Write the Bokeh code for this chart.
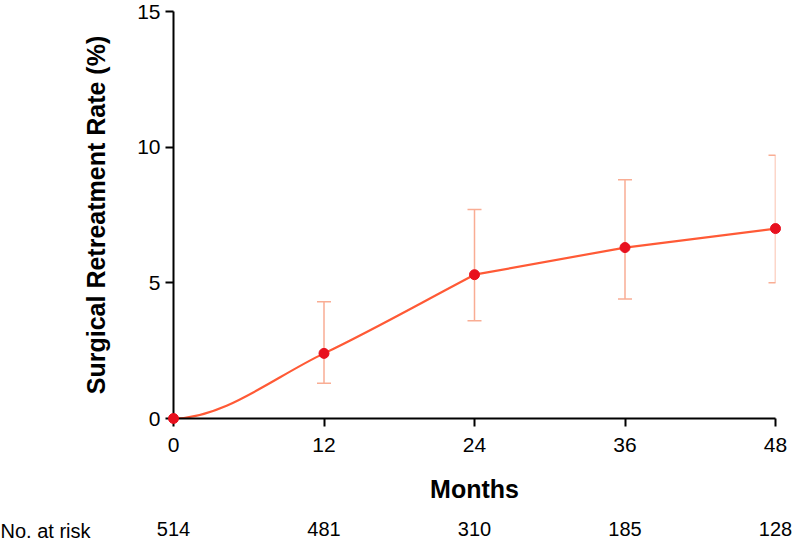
from bokeh.plotting import figure
from bokeh.models import (ColumnDataSource, Whisker, TeeHead, FixedTicker, LinearAxis, Range1d)
from bokeh.core.properties import value
from bokeh.embed import file_html
from bokeh.resources import INLINE

months = [0, 12, 24, 36, 48]
rate = [0.0, 2.4, 5.3, 6.3, 7.0]
ci_low = [0.0, 1.3, 3.6, 4.4, 5.0]
ci_high = [0.0, 4.3, 7.7, 8.8, 9.7]
at_risk = ["514", "481", "310", "185", "128"]
y_ticks = [0, 5, 10, 15]

FONT = "Liberation Sans"
LINE = "#ff5a36"
DOT = "#e8101e"
ERR = "#f9ad94"

FRAME_LEFT = 173
p = figure(width=792, height=540, output_backend="svg", toolbar_location=None,
           frame_width=602, frame_height=407,
           x_range=Range1d(0, 48), y_range=Range1d(0, 15),
           min_border_left=FRAME_LEFT, min_border_right=17, min_border_top=11, min_border_bottom=122)
p.outline_line_color = None
p.xgrid.visible = False
p.ygrid.visible = False

# curve: smooth through the first three points (flat start), straight afterwards
k = 2  # index where the smooth part ends
m = [0.0,
     (rate[2] - rate[0]) / (months[2] - months[0]),
     (rate[2] - rate[1]) / (months[2] - months[1])]
bx0, by0, bx1, by1, cx0, cy0, cx1, cy1 = [], [], [], [], [], [], [], []
for i in range(k):
    h = months[i + 1] - months[i]
    bx0.append(months[i]); by0.append(rate[i])
    bx1.append(months[i + 1]); by1.append(rate[i + 1])
    cx0.append(months[i] + h / 3); cy0.append(rate[i] + m[i] * h / 3)
    cx1.append(months[i + 1] - h / 3); cy1.append(rate[i + 1] - m[i + 1] * h / 3)
p.bezier(x0=bx0, y0=by0, x1=bx1, y1=by1, cx0=cx0, cy0=cy0, cx1=cx1, cy1=cy1,
         line_color=LINE, line_width=2.2)
p.line(months[k:], rate[k:], line_color=LINE, line_width=2.2)

src = ColumnDataSource(dict(x=months[1:], y=rate[1:], lo=ci_low[1:], hi=ci_high[1:]))
w = Whisker(source=src, base="x", lower="lo", upper="hi", line_color=ERR, line_width=1.5,
            upper_head=TeeHead(size=14, line_color=ERR, line_width=1.5),
            lower_head=TeeHead(size=14, line_color=ERR, line_width=1.5))
p.add_layout(w)

p.scatter(months, rate, size=10, color=DOT, line_color=DOT, level="overlay")

# axes
for ax in (p.xaxis[0], p.yaxis[0]):
    ax.axis_line_width = 2
    ax.axis_line_color = "black"
    ax.major_tick_line_width = 2
    ax.major_tick_line_color = "black"
    ax.major_tick_in = 0
    ax.major_tick_out = 8
    ax.minor_tick_line_color = None
    ax.major_label_text_font = FONT
    ax.major_label_text_font_size = "21px"
    ax.major_label_text_color = "black"
    ax.axis_label_text_font = FONT
    ax.axis_label_text_font_style = "bold"
    ax.axis_label_text_font_size = "25px"
    ax.axis_label_text_color = "black"

p.xaxis[0].ticker = FixedTicker(ticks=months)
p.xaxis[0].axis_label = "Months"
p.xaxis[0].axis_label_standoff = 20
p.xaxis[0].major_label_standoff = 11

p.yaxis[0].ticker = FixedTicker(ticks=y_ticks)
p.yaxis[0].axis_label = "Surgical Retreatment Rate (%)"
p.yaxis[0].axis_label_standoff = 24
p.yaxis[0].major_label_standoff = 5

risk_axis = LinearAxis(ticker=FixedTicker(ticks=months),
                       major_label_overrides={mo: r for mo, r in zip(months, at_risk)})
risk_axis.axis_line_color = None
risk_axis.major_tick_line_color = None
risk_axis.major_tick_out = 0
risk_axis.major_tick_in = 0
risk_axis.minor_tick_line_color = None
risk_axis.minor_tick_out = 0
risk_axis.major_label_text_font = FONT
risk_axis.major_label_text_font_size = "20px"
risk_axis.major_label_text_color = "black"
risk_axis.major_label_standoff = 16
p.add_layout(risk_axis, "below")

# row caption, anchored at the origin and offset in pixels to the left edge
p.text(x=[months[0]], y=[0], text=["No. at risk"], x_offset=-FRAME_LEFT, y_offset=112,
       text_font=value(FONT), text_font_size="20px", text_color="black",
       text_align="left", text_baseline="middle", level="overlay")

open("out.html", "w").write(file_html(p, INLINE))
